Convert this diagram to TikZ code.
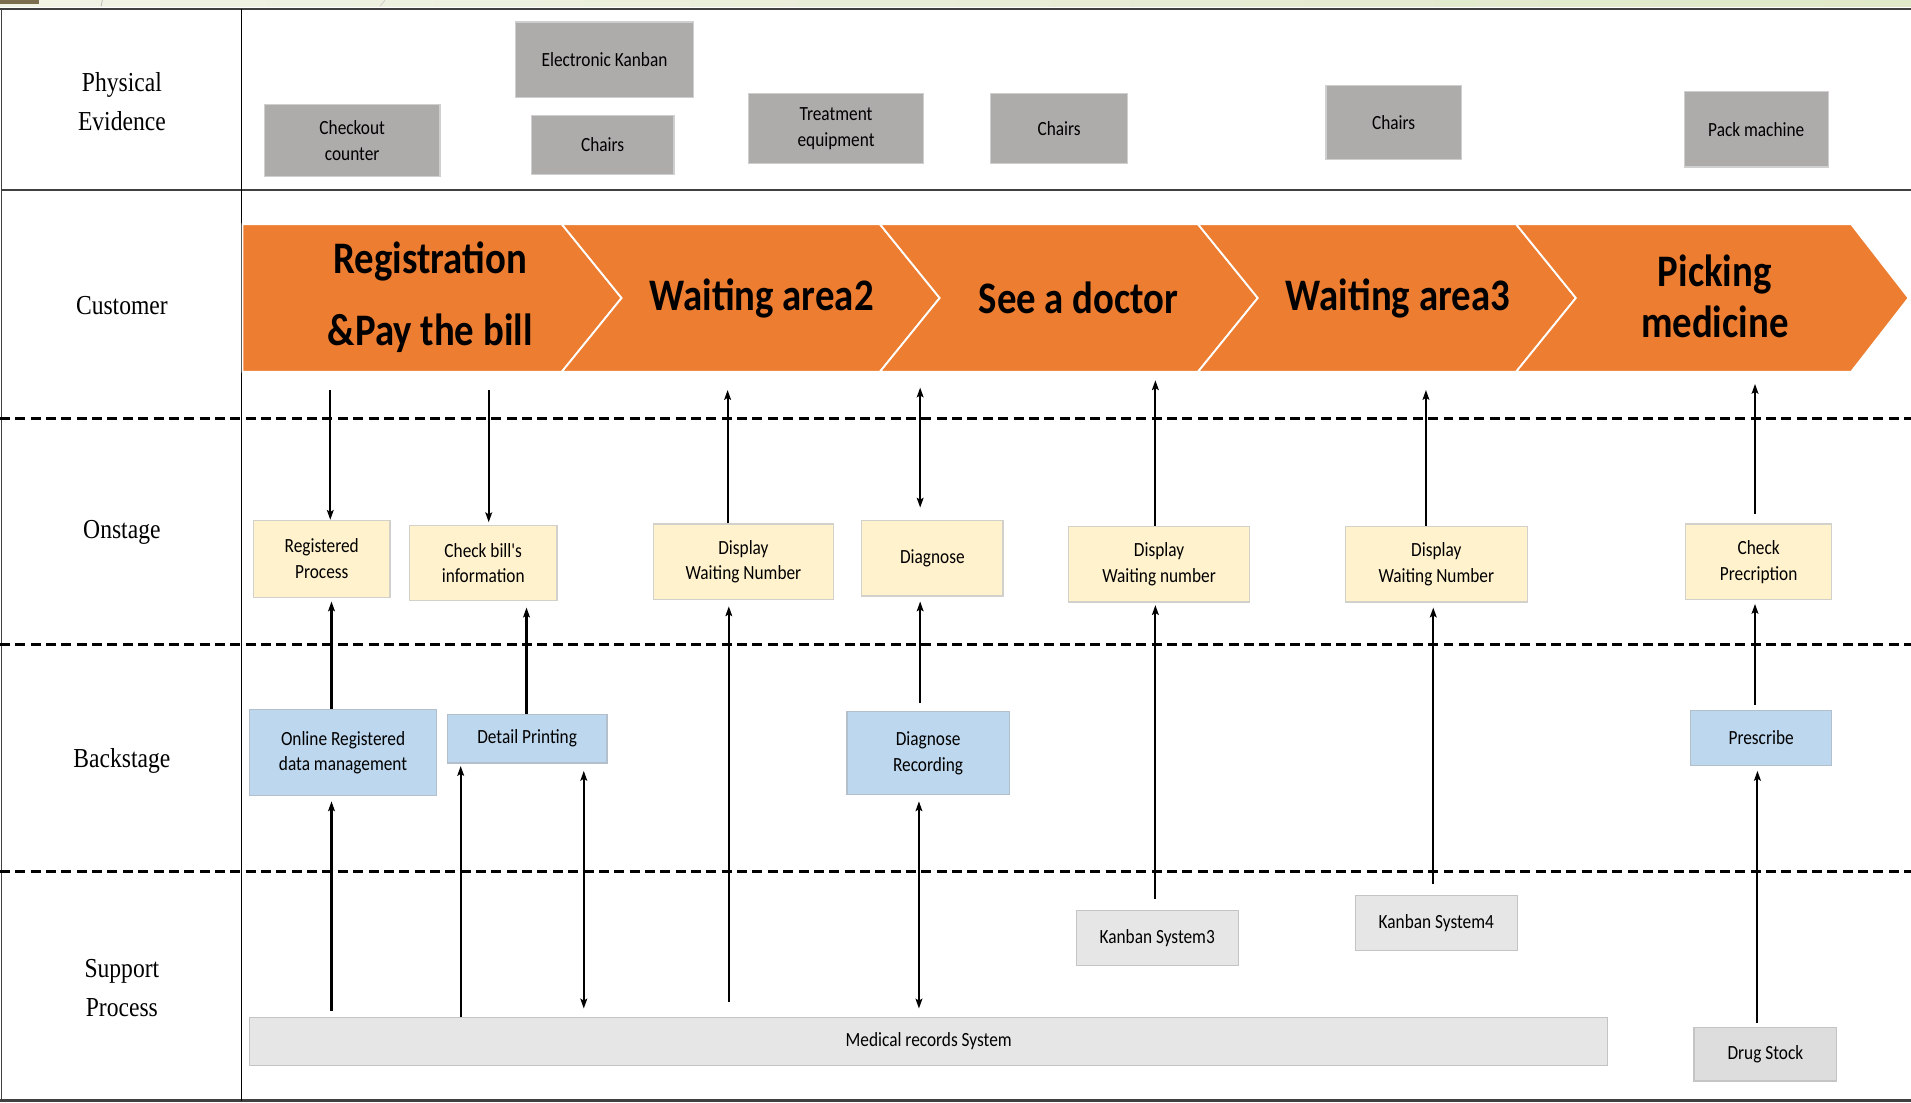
\documentclass[tikz,border=0pt]{standalone}
\usepackage{fontspec}
\usetikzlibrary{arrows.meta}
\newfontfamily\boxfont[FakeStretch=0.86]{Carlito}
\newfontfamily\lanefont[FakeStretch=0.86]{Liberation Serif}
\definecolor{evfill}{HTML}{AEABAB}
\definecolor{evedge}{HTML}{CFCFCF}
\definecolor{onfill}{HTML}{FFF2CC}
\definecolor{onedge}{HTML}{D2D0CA}
\definecolor{bkfill}{HTML}{BDD7EE}
\definecolor{bkedge}{HTML}{B3C0CC}
\definecolor{spfill}{HTML}{E6E6E6}
\definecolor{spedge}{HTML}{C4C4C4}
\definecolor{dsfill}{HTML}{DDDDDD}
\definecolor{stageorange}{HTML}{ED7D31}
\definecolor{framegray}{HTML}{404040}
\definecolor{stripL}{HTML}{F1F3E6}
\definecolor{stripR}{HTML}{DFE8C8}
\definecolor{stripblock}{HTML}{7B6E4E}
\begin{document}
\begin{tikzpicture}[x=1pt,y=-1pt,
  card/.style={rectangle, inner sep=0pt, align=center, line width=1pt,
    font=\boxfont\fontsize{16.5}{21}\selectfont},
  evid/.style={card, fill=evfill, draw=evedge},
  onst/.style={card, fill=onfill, draw=onedge},
  back/.style={card, fill=bkfill, draw=bkedge},
  supp/.style={card, fill=spfill, draw=spedge},
  lane/.style={align=center, font=\lanefont\fontsize{22.5}{32}\selectfont},
  stagetext/.style={align=center, font=\boxfont\bfseries\fontsize{37}{59}\selectfont},
  stageshape/.style={fill=stageorange, draw=white, line width=1.5pt, line join=miter},
  tip/.tip={Stealth[length=8pt,width=5.5pt,inset=1.5pt]},
  link/.style={line width=1.7pt, -tip},
  both/.style={line width=1.7pt, tip-tip},
  laneline/.style={line width=2.5pt, dash pattern=on 8.2pt off 4.4pt},
]
\useasboundingbox (0,0) rectangle (1568,905);
\fill[white] (0,0) rectangle (1568,905);

% slide strip along the top edge
\shade[left color=stripL, right color=stripR] (0,0) rectangle (1568,5);
\fill[stripblock] (0,0) rectangle (32,3.6);
\draw[gray!60, line width=0.6pt] (84,0) -- (83,5);
\draw[gray!40, line width=0.6pt] (316,0) -- (312,5);

% frame of the blueprint
\draw[framegray, line width=2pt] (0,7.5) -- (1568,7.5);
\draw[framegray, line width=1.4pt] (1.3,7.5) -- (1.3,903);
\draw[framegray, line width=1.8pt] (1.3,156) -- (1568,156);
\draw[framegray, line width=2pt] (0,903) -- (1568,903);
\draw[black, line width=1.3pt] (198,7.5) -- (198,903);

% lines of interaction, visibility and internal interaction
\draw[laneline] (0,343) -- (1568,343);
\draw[laneline] (0,529) -- (1568,529);
\draw[laneline] (0,715) -- (1568,715);

% lane titles
\node[lane] (tpe) at (100,83) {Physical\\Evidence};
\node[lane] (tcu) at (100,251) {Customer};
\node[lane] (ton) at (100,437) {Onstage};
\node[lane] (tbs) at (100,624) {Backstage};
\node[lane] (tsp) at (100,811) {Support\\Process};

% customer journey
\path[stageshape] (199,184) -- (461,184) -- (510,244.5) -- (461,305) -- (199,305) -- cycle;
\path[stageshape] (461,184) -- (722,184) -- (771,244.5) -- (722,305) -- (461,305) -- (510,244.5) -- cycle;
\path[stageshape] (722,184) -- (983,184) -- (1032,244.5) -- (983,305) -- (722,305) -- (771,244.5) -- cycle;
\path[stageshape] (983,184) -- (1244,184) -- (1293,244.5) -- (1244,305) -- (983,305) -- (1032,244.5) -- cycle;
\path[stageshape] (1244,184) -- (1519,184) -- (1566,244.5) -- (1519,305) -- (1244,305) -- (1293,244.5) -- cycle;
\node[stagetext] (st1) at (353,243.5) {Registration\\\&Pay the bill};
\node[stagetext] (st2) at (625,244.5) {Waiting area2};
\node[stagetext] (st3) at (885,244) {See a doctor};
\node[stagetext] (st4) at (1147,244.5) {Waiting area3};
\node[stagetext, font=\boxfont\bfseries\fontsize{37}{42}\selectfont] (st5) at (1407,243) {Picking\\medicine};

% physical evidence
\node[evid, minimum width=144pt, minimum height=59pt] (pe1) at (289,115.5) {Checkout\\counter};
\node[evid, minimum width=146pt, minimum height=62pt] (pe2) at (496,49) {Electronic Kanban};
\node[evid, minimum width=117pt, minimum height=48pt] (pe3) at (494.5,119) {Chairs};
\node[evid, minimum width=144pt, minimum height=57pt] (pe4) at (686,105.5) {Treatment\\equipment};
\node[evid, minimum width=112pt, minimum height=57pt] (pe5) at (869,105.5) {Chairs};
\node[evid, minimum width=111pt, minimum height=61pt] (pe6) at (1143.5,100.5) {Chairs};
\node[evid, minimum width=118pt, minimum height=62pt] (pe7) at (1441,106) {Pack machine};

% onstage actions
\node[onst, minimum width=112pt, minimum height=63pt] (on1) at (264,458.5) {Registered\\Process};
\node[onst, minimum width=121pt, minimum height=62pt] (on2) at (396.5,462) {Check bill's\\information};
\node[onst, minimum width=148pt, minimum height=62pt] (on3) at (610,461) {Display\\Waiting Number};
\node[onst, minimum width=116pt, minimum height=62pt] (on4) at (765,458) {Diagnose};
\node[onst, minimum width=148pt, minimum height=62pt] (on5) at (951,463) {Display\\Waiting number};
\node[onst, minimum width=149pt, minimum height=62pt] (on6) at (1178.5,463) {Display\\Waiting Number};
\node[onst, minimum width=120pt, minimum height=62pt] (on7) at (1443,461) {Check\\Precription};

% backstage actions
\node[back, minimum width=153pt, minimum height=71pt] (bs1) at (281.5,617.5) {Online Registered\\data management};
\node[back, minimum width=131pt, minimum height=40pt] (bs2) at (432.5,606) {Detail Printing};
\node[back, minimum width=133pt, minimum height=68pt] (bs3) at (761.5,618) {Diagnose\\Recording};
\node[back, minimum width=116pt, minimum height=45pt] (bs4) at (1445,605.5) {Prescribe};

% support processes
\node[supp, minimum width=133pt, minimum height=45pt] (sp1) at (949.5,769.5) {Kanban System3};
\node[supp, minimum width=133pt, minimum height=45pt] (sp2) at (1178.5,757.5) {Kanban System4};
\node[supp, minimum width=1114pt, minimum height=39pt] (sp3) at (762,854.5) {Medical records System};
\node[supp, fill=dsfill, minimum width=117pt, minimum height=44pt] (sp4) at (1448.5,865) {Drug Stock};

% customer <-> onstage
\coordinate (u1) at (271,320);
\coordinate (u2) at (401,320);
\coordinate (u3) at (597,320);
\coordinate (u4) at (755,318);
\coordinate (u5) at (948,312);
\coordinate (u6) at (1170,320);
\coordinate (u7) at (1440,315);
\draw[link] (u1) -- (u1 |- on1.north);
\draw[link, shorten >=2pt] (u2) -- (u2 |- on2.north);
\draw[link] (u3 |- on3.north) -- (u3);
\draw[both, shorten >=10pt] (u4) -- (u4 |- on4.north);
\draw[link] (u5 |- on5.north) -- (u5);
\draw[link] (u6 |- on6.north) -- (u6);
\draw[link, shorten <=8pt] (u7 |- on7.north) -- (u7);

% backstage / support -> onstage
\coordinate (m1) at (272,0);
\coordinate (m2) at (432,0);
\coordinate (m3) at (598,822);
\coordinate (m4) at (755,0);
\coordinate (m5) at (948,0);
\coordinate (m6) at (1176,0);
\coordinate (m7) at (1440,0);
\draw[link, shorten >=3pt] (m1 |- bs1.north) -- (m1 |- on1.south);
\draw[link, shorten >=5pt] (m2 |- bs2.north) -- (m2 |- on2.south);
\draw[link, shorten >=5pt] (m3) -- (m3 |- on3.south);
\draw[link, shorten <=7pt, shorten >=4pt] (m4 |- bs3.north) -- (m4 |- on4.south);
\draw[link, shorten <=9pt, shorten >=2pt] (m5 |- sp1.north) -- (m5 |- on5.south);
\draw[link, shorten <=9pt, shorten >=4pt] (m6 |- sp2.north) -- (m6 |- on6.south);
\draw[link, shorten <=4pt, shorten >=3pt] (m7 |- bs4.north) -- (m7 |- on7.south);

% support -> backstage
\coordinate (l2) at (378,0);
\coordinate (l3) at (479,0);
\coordinate (l4) at (754,0);
\coordinate (l5) at (1442,0);
\draw[link, shorten <=5pt, shorten >=4pt] (m1 |- sp3.north) -- (m1 |- bs1.south);
\draw[link, shorten >=2pt] (l2 |- sp3.north) -- (l2 |- bs2.south);
\draw[both, shorten <=6pt, shorten >=7pt] (l3 |- bs2.south) -- (l3 |- sp3.north);
\draw[both, shorten <=5pt, shorten >=7pt] (l4 |- bs3.south) -- (l4 |- sp3.north);
\draw[link, shorten <=3pt, shorten >=4pt] (l5 |- sp4.north) -- (l5 |- bs4.south);
\end{tikzpicture}
\end{document}
